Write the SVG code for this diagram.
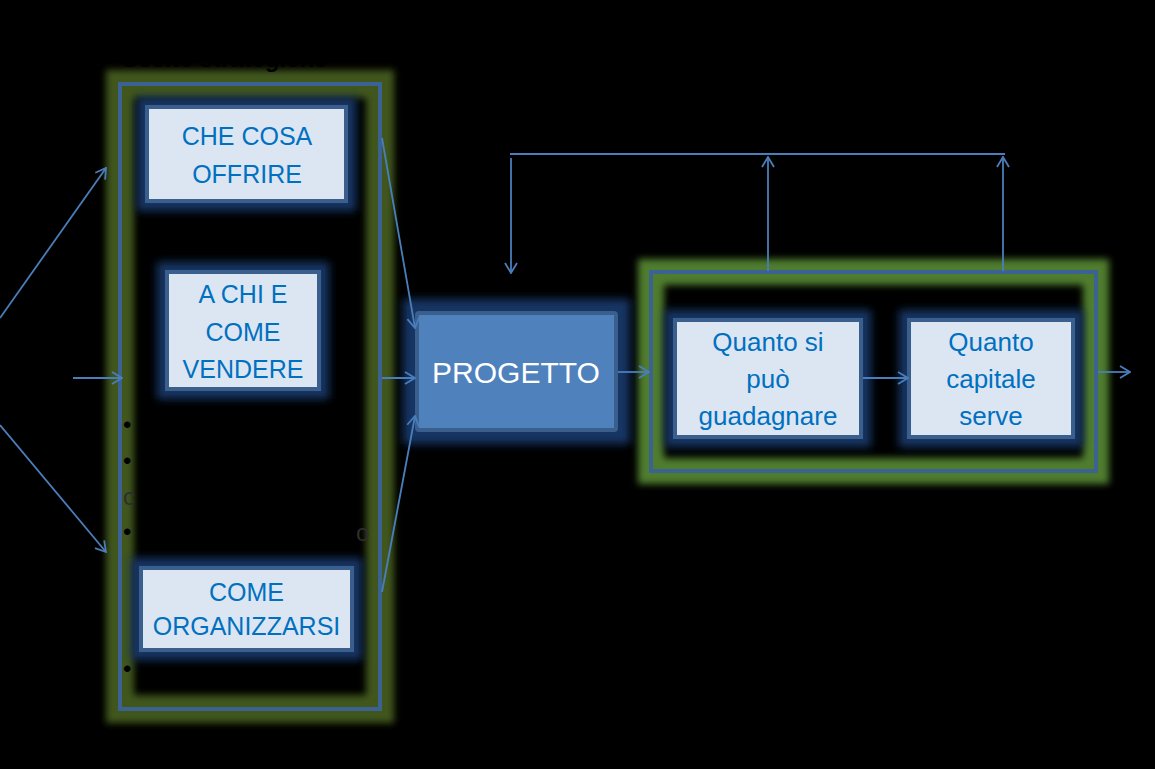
<svg xmlns="http://www.w3.org/2000/svg" width="1155" height="769" viewBox="0 0 1155 769">
<style>
.node{fill:#dce6f2;stroke:#3a5f8c;stroke-width:4}
.prog{fill:#4f81bd;stroke:#3a5f8c;stroke-width:4}
.glow{fill:#143464;filter:url(#fNavy)}
.lbl{font-family:"Liberation Sans",Arial,sans-serif;font-size:25px;fill:#0070c0;text-anchor:middle}
.lbl2{font-family:"Liberation Sans",Arial,sans-serif;font-size:26px;fill:#0070c0;text-anchor:middle}
.big{font-family:"Liberation Sans",Arial,sans-serif;font-size:30px;fill:#ffffff;text-anchor:middle}
.hid{font-family:"Liberation Sans",Arial,sans-serif;font-size:24px;fill:#000}
.frag{font-family:"Liberation Sans",Arial,sans-serif;font-size:24px;fill:#2e2e2e}
.cont{fill:none;stroke:#3c6294;stroke-width:4}
.conn{fill:none;stroke:#4a7ebb;stroke-width:1.8;marker-end:url(#arr)}
.plain{fill:none;stroke:#4a7ebb;stroke-width:1.8}
</style>
<defs>
<filter id="fNavy" x="-30%" y="-30%" width="160%" height="160%"><feGaussianBlur stdDeviation="4.5"/></filter>
<filter id="fGreen" x="-10%" y="-10%" width="120%" height="120%"><feGaussianBlur stdDeviation="3.5"/></filter>
<marker id="arr" viewBox="0 0 12 14" refX="11" refY="7" markerWidth="12" markerHeight="14" markerUnits="userSpaceOnUse" orient="auto">
<path d="M1,1 L11,7 L1,13" fill="none" stroke="#4a7ebb" stroke-width="1.8"/>
</marker>
</defs>
<rect x="0" y="0" width="1155" height="769" fill="#000"/>

<g id="left-container">
<rect x="120" y="84" width="260" height="625" fill="none" stroke="#41561a" stroke-width="28" filter="url(#fGreen)"/>
<rect x="120" y="84" width="260" height="625" class="cont"/>
<text x="122" y="67" class="hid" font-weight="bold">Scelte strategiche</text>
<text x="123" y="433" class="hid">•</text>
<text x="123" y="469" class="hid">•</text>
<text x="123" y="505" class="frag">c</text>
<text x="123" y="540" class="hid">•</text>
<text x="356" y="541" class="frag">o</text>
<text x="123" y="677" class="hid">•</text>
</g>

<g id="right-container">
<rect x="651" y="272" width="445" height="199" fill="none" stroke="#507d2e" stroke-width="26" filter="url(#fGreen)"/>
<rect x="651" y="272" width="445" height="199" class="cont"/>
</g>

<g id="node-che-cosa">
<rect x="137" y="97" width="219" height="114" class="glow"/>
<rect x="147" y="107" width="199" height="94" class="node"/>
<text x="247" y="145" class="lbl">CHE COSA</text>
<text x="247" y="183" class="lbl">OFFRIRE</text>
</g>

<g id="node-a-chi">
<rect x="157" y="262" width="172" height="137" class="glow"/>
<rect x="167" y="272" width="152" height="117" class="node"/>
<text x="243" y="303" class="lbl">A CHI E</text>
<text x="243" y="341" class="lbl">COME</text>
<text x="243" y="378" class="lbl">VENDERE</text>
</g>

<g id="node-come-org">
<rect x="131" y="558" width="231" height="102" class="glow"/>
<rect x="141" y="568" width="211" height="82" class="node"/>
<text x="246.5" y="601" class="lbl">COME</text>
<text x="246.5" y="635" class="lbl">ORGANIZZARSI</text>
</g>

<g id="node-progetto">
<rect x="403" y="299" width="227" height="145" class="glow"/>
<rect x="417" y="313" width="199" height="117" rx="2" class="prog"/>
<text x="516" y="383" class="big">PROGETTO</text>
</g>

<g id="node-guadagnare">
<rect x="665" y="310" width="206" height="137" class="glow"/>
<rect x="675" y="320" width="186" height="117" class="node"/>
<text x="768" y="351" class="lbl2">Quanto si</text>
<text x="768" y="388" class="lbl2">può</text>
<text x="768" y="425" class="lbl2">guadagnare</text>
</g>

<g id="node-capitale">
<rect x="899" y="310" width="184" height="137" class="glow"/>
<rect x="909" y="320" width="164" height="117" class="node"/>
<text x="991" y="351" class="lbl2">Quanto</text>
<text x="991" y="388" class="lbl2">capitale</text>
<text x="991" y="425" class="lbl2">serve</text>
</g>

<g id="connectors">
<line x1="0" y1="318" x2="106" y2="168" class="conn"/>
<line x1="73" y1="378" x2="122" y2="378" class="conn"/>
<line x1="0" y1="425" x2="106" y2="552" class="conn"/>
<line x1="382" y1="138" x2="415" y2="328" class="conn"/>
<line x1="382" y1="378" x2="415" y2="378" class="conn"/>
<line x1="382" y1="592" x2="415" y2="416" class="conn"/>
<line x1="618" y1="372" x2="649" y2="372" class="conn"/>
<line x1="863" y1="378" x2="908" y2="378" class="conn"/>
<line x1="1098" y1="372" x2="1130" y2="372" class="conn"/>
<line x1="510" y1="154" x2="1005" y2="154" class="plain"/>
<line x1="511" y1="158" x2="511" y2="273" class="conn"/>
<line x1="768" y1="271" x2="768" y2="157" class="conn"/>
<line x1="1003" y1="271" x2="1003" y2="157" class="conn"/>
</g>
</svg>
